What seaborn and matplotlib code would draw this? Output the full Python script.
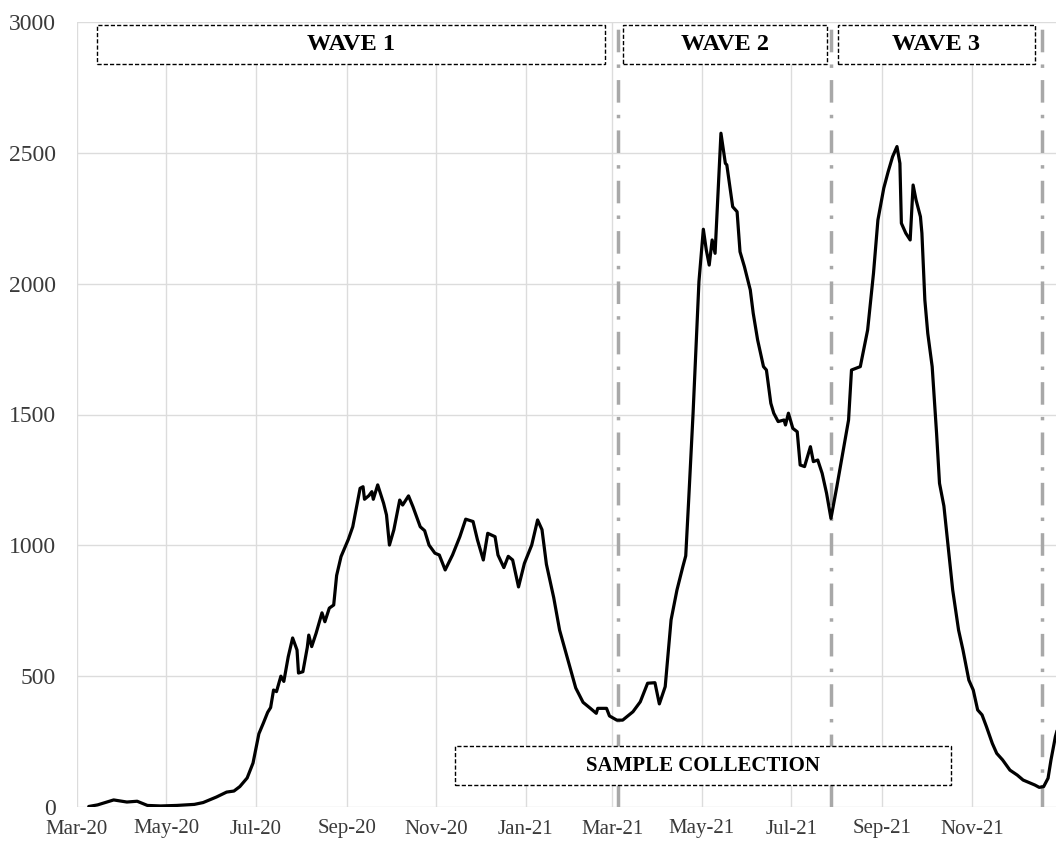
"""Daily cases Mar-2020 to Dec-2021 with wave boundaries and sample collection window."""

import numpy as np
import pandas as pd
import seaborn as sns
import matplotlib.pyplot as plt
import matplotlib.dates as mdates
from matplotlib.patches import Rectangle
from matplotlib.ticker import MultipleLocator

dates = [
    "2020-03-09", "2020-03-15", "2020-03-26", "2020-04-04", "2020-04-11", "2020-04-18",
    "2020-04-27", "2020-05-08", "2020-05-20", "2020-05-26", "2020-06-04", "2020-06-11",
    "2020-06-16", "2020-06-20", "2020-06-25", "2020-06-29", "2020-07-03", "2020-07-06",
    "2020-07-09", "2020-07-11", "2020-07-13", "2020-07-15", "2020-07-18", "2020-07-20",
    "2020-07-23", "2020-07-26", "2020-07-29", "2020-07-30", "2020-08-02", "2020-08-05",
    "2020-08-06", "2020-08-08", "2020-08-11", "2020-08-15", "2020-08-17", "2020-08-20",
    "2020-08-23", "2020-08-25", "2020-08-28", "2020-09-02", "2020-09-05", "2020-09-10",
    "2020-09-12", "2020-09-13", "2020-09-16", "2020-09-18", "2020-09-19", "2020-09-22",
    "2020-09-26", "2020-09-28", "2020-09-30", "2020-10-03", "2020-10-07", "2020-10-09",
    "2020-10-13", "2020-10-16", "2020-10-21", "2020-10-24", "2020-10-27", "2020-10-31",
    "2020-11-03", "2020-11-07", "2020-11-12", "2020-11-17", "2020-11-21", "2020-11-26",
    "2020-11-29", "2020-12-03", "2020-12-06", "2020-12-11", "2020-12-13", "2020-12-17",
    "2020-12-20", "2020-12-23", "2020-12-27", "2020-12-31", "2021-01-05", "2021-01-09",
    "2021-01-12", "2021-01-15", "2021-01-20", "2021-01-24", "2021-01-30", "2021-02-04",
    "2021-02-09", "2021-02-14", "2021-02-18", "2021-02-19", "2021-02-25", "2021-02-27",
    "2021-03-04", "2021-03-08", "2021-03-15", "2021-03-20", "2021-03-25", "2021-03-30",
    "2021-04-02", "2021-04-06", "2021-04-10", "2021-04-14", "2021-04-18", "2021-04-20",
    "2021-04-22", "2021-04-25", "2021-04-29", "2021-05-02", "2021-05-04", "2021-05-06",
    "2021-05-08", "2021-05-10", "2021-05-14", "2021-05-17", "2021-05-18", "2021-05-22",
    "2021-05-25", "2021-05-27", "2021-05-30", "2021-06-03", "2021-06-05", "2021-06-08",
    "2021-06-12", "2021-06-14", "2021-06-17", "2021-06-19", "2021-06-22", "2021-06-26",
    "2021-06-27", "2021-06-29", "2021-07-02", "2021-07-05", "2021-07-07", "2021-07-10",
    "2021-07-14", "2021-07-16", "2021-07-19", "2021-07-22", "2021-07-25", "2021-07-28",
    "2021-08-01", "2021-08-05", "2021-08-09", "2021-08-11", "2021-08-17", "2021-08-22",
    "2021-08-26", "2021-08-29", "2021-09-02", "2021-09-05", "2021-09-08", "2021-09-11",
    "2021-09-13", "2021-09-14", "2021-09-17", "2021-09-20", "2021-09-22", "2021-09-24",
    "2021-09-27", "2021-09-28", "2021-09-30", "2021-10-02", "2021-10-05", "2021-10-08",
    "2021-10-10", "2021-10-13", "2021-10-16", "2021-10-19", "2021-10-23", "2021-10-26",
    "2021-10-30", "2021-11-02", "2021-11-05", "2021-11-08", "2021-11-11", "2021-11-15",
    "2021-11-18", "2021-11-22", "2021-11-27", "2021-12-02", "2021-12-06", "2021-12-11",
    "2021-12-14", "2021-12-17", "2021-12-20", "2021-12-23", "2021-12-25", "2021-12-28",
    "2021-12-31",
]
cases = [
    2, 8, 27, 19, 22, 6,
    4, 6, 10, 17, 38, 57,
    61, 78, 111, 168, 280, 320,
    362, 380, 447, 441, 500, 480,
    574, 646, 600, 512, 517, 610,
    657, 613, 664, 742, 708, 760,
    772, 885, 957, 1023, 1071, 1218,
    1224, 1176, 1190, 1205, 1176, 1231,
    1161, 1116, 1001, 1059, 1173, 1154,
    1189, 1148, 1071, 1056, 1001, 970,
    963, 906, 963, 1033, 1100, 1091,
    1021, 944, 1046, 1033, 963, 915,
    958, 944, 841, 931, 1001, 1097,
    1060, 928, 800, 676, 555, 455,
    400, 377, 358, 377, 377, 348,
    332, 332, 364, 402, 473, 475,
    394, 460, 715, 829, 918, 960,
    1173, 1505, 2008, 2208, 2129, 2071,
    2167, 2116, 2575, 2460, 2454, 2294,
    2275, 2122, 2065, 1976, 1887, 1785,
    1683, 1670, 1543, 1505, 1473, 1479,
    1460, 1505, 1447, 1434, 1307, 1301,
    1377, 1320, 1326, 1275, 1199, 1103,
    1224, 1352, 1479, 1670, 1683, 1823,
    2040, 2243, 2365, 2428, 2485, 2524,
    2460, 2231, 2193, 2167, 2377, 2320,
    2256, 2193, 1938, 1810, 1683, 1428,
    1237, 1150, 990, 829, 676, 600,
    485, 447, 371, 352, 307, 243,
    205, 180, 141, 122, 103, 91,
    84, 75, 78, 110, 180, 269,
    330,
]

wave_bounds = ["2021-03-05", "2021-07-28", "2021-12-19"]
box_labels = ["WAVE 1", "WAVE 2", "WAVE 3", "SAMPLE COLLECTION"]

df = pd.DataFrame({"date": pd.to_datetime(dates), "cases": cases})

sns.set_theme(style="whitegrid")
plt.rcParams["font.family"] = ["Liberation Serif", "DejaVu Serif"]

fig = plt.figure(figsize=(10.56, 8.42), dpi=100)
ax = fig.add_axes([77 / 1056, 35 / 842, 979 / 1056, 785 / 842])

sns.lineplot(data=df, x="date", y="cases", ax=ax, color="black",
             linewidth=2.3, zorder=3)

for d in wave_bounds:
    ax.axvline(pd.Timestamp(d), color="#a8a8a8", linewidth=2.5,
               linestyle=(0, (6.5, 3.5, 1, 3.5)), zorder=2)

ax.set_xlim(pd.Timestamp("2020-03-01"), pd.Timestamp("2021-12-28 10:00"))
ax.set_ylim(0, 3000)
ax.yaxis.set_major_locator(MultipleLocator(500))
ax.xaxis.set_major_locator(mdates.MonthLocator(bymonth=[1, 3, 5, 7, 9, 11]))
ax.xaxis.set_major_formatter(mdates.DateFormatter("%b-%y"))
ax.grid(True, color="#dcdcdc", linewidth=1)
for s in ax.spines.values():
    s.set_visible(False)
ax.tick_params(axis="both", length=0, colors="#3a3a3a")
ax.tick_params(axis="y", pad=15, labelsize=17)
ax.tick_params(axis="x", pad=9, labelsize=15)
ax.set_xlabel("")
ax.set_ylabel("")

# boxes in axes fraction: (x0, x1, y0, y1, fontsize)
box_layout = [
    (0.0204, 0.5393, 0.9465, 0.9962, 17.5),
    (0.5577, 0.7661, 0.9465, 0.9962, 17.5),
    (0.7773, 0.9785, 0.9465, 0.9962, 17.5),
    (0.3861, 0.8927, 0.0280, 0.0777, 15),
]
for label, (x0, x1, y0, y1, fs) in zip(box_labels, box_layout):
    ax.add_patch(Rectangle((x0, y0), x1 - x0, y1 - y0, transform=ax.transAxes,
                           facecolor="white", edgecolor="black", linewidth=1,
                           linestyle=(0, (3, 1.5)), zorder=5, clip_on=False))
    ax.text((x0 + x1) / 2, (y0 + y1) / 2, label, transform=ax.transAxes,
            ha="center", va="center", fontsize=fs, fontweight="bold",
            color="black", zorder=6)

fig.savefig("out.png", dpi=100)
plt.close(fig)
